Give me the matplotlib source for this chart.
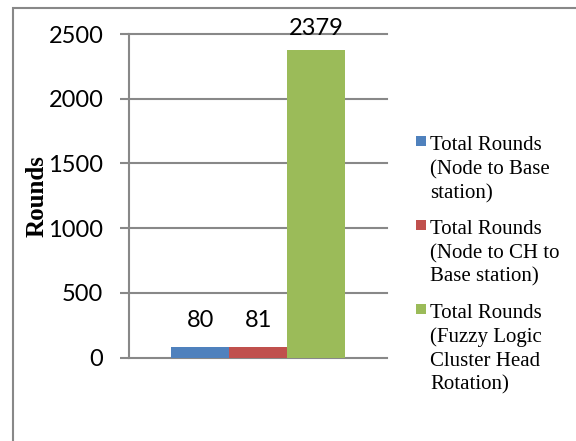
#!/usr/bin/env python3
"""
Total rounds per protocol: single-category bar chart with a legend on the right.
"""

import matplotlib
matplotlib.use("Agg")

import matplotlib.pyplot as plt
from matplotlib.patches import Rectangle

SERIES_NAMES = [
    "Total Rounds\n(Node to Base\nstation)",
    "Total Rounds\n(Node to CH to\nBase station)",
    "Total Rounds\n(Fuzzy Logic\nCluster Head\nRotation)",
]
ROUNDS = [80, 81, 2379]
COLORS = ["#4F81BD", "#C0504D", "#9BBB59"]
YTICKS = [0, 500, 1000, 1500, 2000, 2500]

# value-label offsets in points (Excel pushes the tall one down to fit)
LABEL_OFFSETS = [19, 19, 15]

GRAY = "#888888"
NUM_FONT = "Lato"
TXT_FONT = "Liberation Serif"


def main():
    fig = plt.figure(figsize=(5.76, 4.41), dpi=100)
    ax = fig.add_axes([0.2245, 0.1889, 0.4474, 0.734])

    # outer chart frame (runs off the right/bottom edge)
    frame = Rectangle((12.7 / 576, -0.1), 1.2, 1.1 - 8.3 / 441,
                      transform=fig.transFigure, fill=False,
                      edgecolor=GRAY, lw=1.5)
    fig.add_artist(frame)

    xs = list(range(len(ROUNDS)))
    bars = ax.bar(xs, ROUNDS, width=1.0, color=COLORS, zorder=2)

    for x, v, off in zip(xs, ROUNDS, LABEL_OFFSETS):
        ax.annotate(str(v), (x, v), xytext=(0, off), textcoords="offset points",
                    ha="center", va="center", fontsize=17, family=NUM_FONT,
                    color="black", annotation_clip=False, zorder=3)

    ax.set_xlim(-1.23, 3.23)
    ax.set_ylim(0, 2500)
    ax.set_xticks([])
    ax.set_yticks(YTICKS)
    ax.set_yticklabels([str(t) for t in YTICKS], family=NUM_FONT, fontsize=17)

    for side in ("top", "right", "bottom"):
        ax.spines[side].set_visible(False)
    ax.spines["left"].set_color(GRAY)
    ax.spines["left"].set_linewidth(1.5)

    ax.tick_params(axis="y", length=6.2, width=1.5, color=GRAY, pad=12.5,
                   labelcolor="black")
    ax.yaxis.grid(True, color=GRAY, lw=1.5)
    ax.set_axisbelow(True)
    for gl in ax.get_ygridlines():
        gl.set_clip_on(False)

    ax.set_ylabel("Rounds", family=TXT_FONT, fontweight="bold", fontsize=18)
    ax.yaxis.set_label_coords(-0.315, 0.5)

    leg = fig.legend(bars, SERIES_NAMES, loc="upper left",
                     bbox_to_anchor=(416 / 576, 1 - 136.5 / 441),
                     frameon=False, borderpad=0, borderaxespad=0,
                     handlelength=0.48, handleheight=0.36, handletextpad=0.2,
                     labelspacing=0.8,
                     prop={"family": TXT_FONT, "size": 15})
    for t in leg.get_texts():
        t.set_linespacing(1.33)
    # put the colour squares next to the first line of each entry
    for col in leg._legend_handle_box.get_children():
        for item in col.get_children():
            item.align = "top"

    fig.savefig("out.png", dpi=100)
    plt.close(fig)


if __name__ == "__main__":
    main()
